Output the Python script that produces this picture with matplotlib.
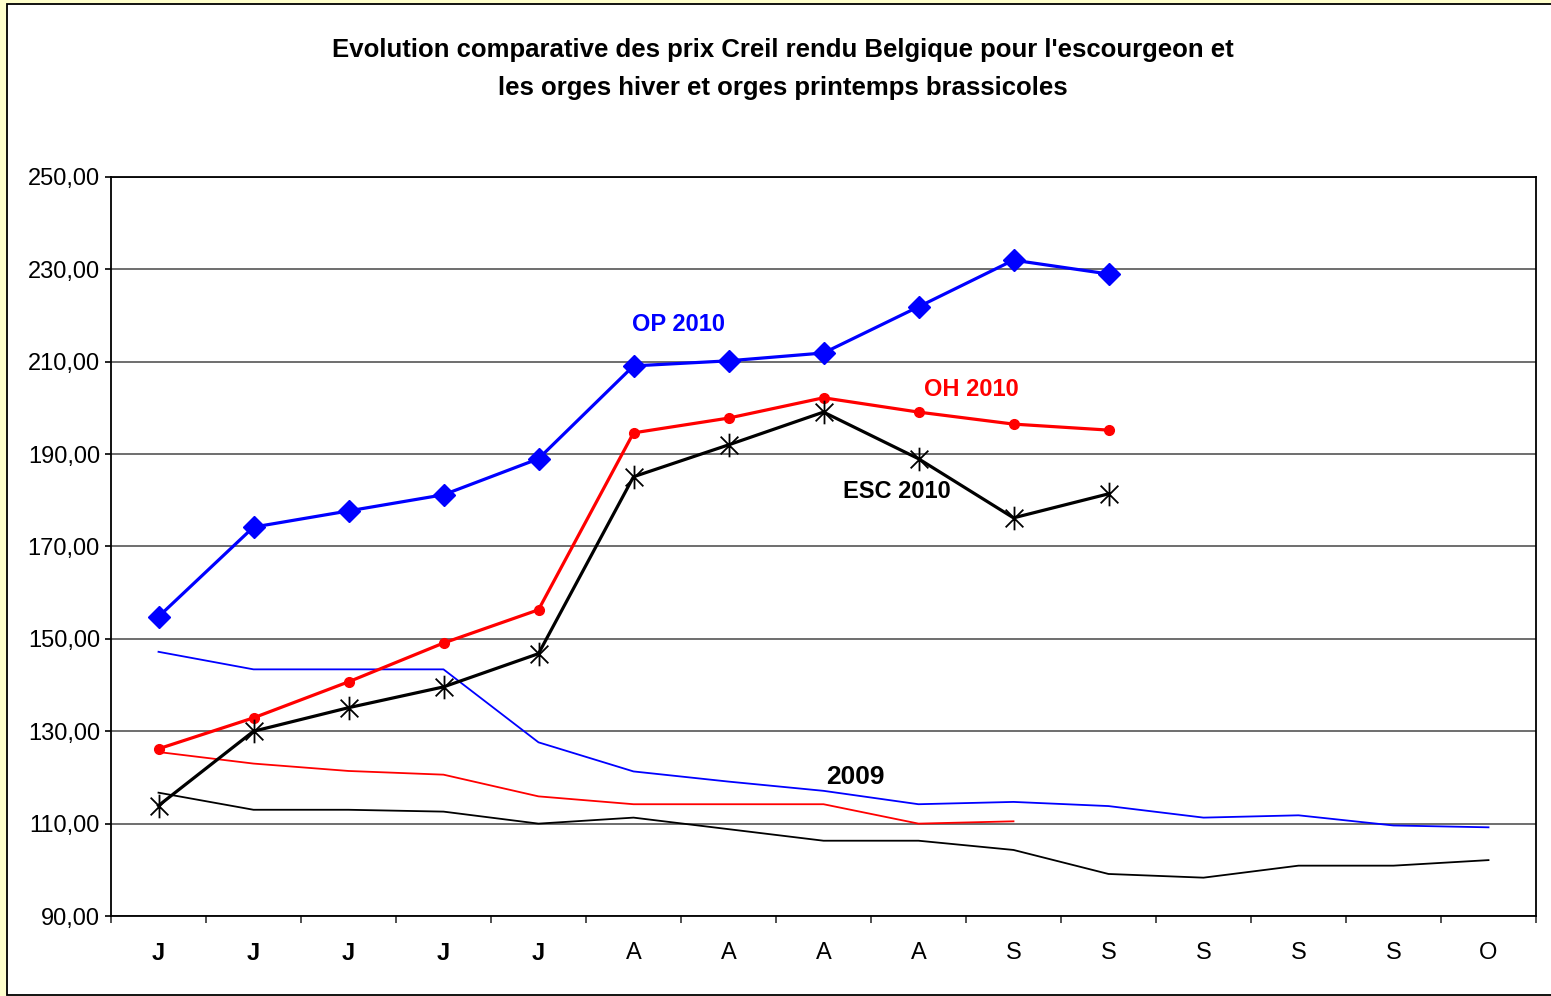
import matplotlib.pyplot as plt
import numpy as np
from matplotlib.patches import Rectangle
from matplotlib.path import Path

plt.rcParams['font.family'] = ['Liberation Sans', 'DejaVu Sans']

MONTHS = ['J', 'J', 'J', 'J', 'J', 'A', 'A', 'A', 'A', 'S', 'S', 'S', 'S', 'S', 'O']

# 2010 campaign (bold lines with markers)
op_2010 = [154.8, 174.2, 177.7, 181.2, 189.0, 209.1, 210.2, 211.9, 221.9, 232.0, 229.0]
oh_2010 = [126.2, 132.9, 140.7, 149.1, 156.3, 194.6, 197.8, 202.2, 199.1, 196.5, 195.2]
esc_2010 = [113.9, 130.0, 135.1, 139.6, 146.8, 185.1, 192.0, 199.1, 189.0, 176.2, 181.4]

# 2009 campaign (thin lines)
op_2009 = [147.2, 143.4, 143.4, 143.4, 127.6, 121.3, 119.1, 117.1, 114.2, 114.7,
           113.8, 111.3, 111.8, 109.6, 109.2]
oh_2009 = [125.5, 123.0, 121.4, 120.6, 115.9, 114.2, 114.2, 114.2, 110.0, 110.5]
esc_2009 = [116.7, 113.0, 113.0, 112.6, 110.0, 111.3, 108.8, 106.3, 106.3, 104.3,
            99.1, 98.3, 100.9, 100.9, 102.1]

YTICKS = [90, 110, 130, 150, 170, 190, 210, 230, 250]

# excel style asterisk: vertical bar + X
star = Path([(0, -1), (0, 1), (-0.75, -0.75), (0.75, 0.75), (-0.75, 0.75), (0.75, -0.75)],
            [Path.MOVETO, Path.LINETO, Path.MOVETO, Path.LINETO, Path.MOVETO, Path.LINETO])

fig = plt.figure(figsize=(15.51, 9.96), dpi=100)
fig.patch.set_facecolor('#FFFFCC')
fig.patches.append(Rectangle((6.5 / 1551, 1.5 / 996), 1.0, 990.5 / 996,
                             transform=fig.transFigure, facecolor='white',
                             edgecolor='black', linewidth=1.3, zorder=-5))

ax = fig.add_axes([111 / 1551, 80 / 996, 1425 / 1551, 739 / 996])
ax.set_zorder(2)
ax.set_facecolor('white')

x15 = np.arange(15)
ax.plot(x15[:len(op_2009)], op_2009, color='blue', lw=1.3, zorder=3)
ax.plot(x15[:len(oh_2009)], oh_2009, color='red', lw=1.3, zorder=3)
ax.plot(x15[:len(esc_2009)], esc_2009, color='black', lw=1.3, zorder=3)

ax.plot(x15[:len(op_2010)], op_2010, color='blue', lw=2.3, marker='D', ms=11,
        mec='blue', zorder=4)
ax.plot(x15[:len(oh_2010)], oh_2010, color='red', lw=2.3, marker='o', ms=7,
        mec='red', zorder=4)
ax.plot(x15[:len(esc_2010)], esc_2010, color='black', lw=2.3, marker=star, ms=17,
        mew=1.3, mec='black', zorder=4)

lbl = dict(fontsize=17, fontweight='bold', ha='center', va='center')
ax.text(5.47, 218.0, 'OP 2010', color='blue', **lbl)
ax.text(8.56, 204.1, 'OH 2010', color='red', **lbl)
ax.text(7.77, 182.0, 'ESC 2010', color='black', **lbl)
ax.text(7.34, 120.1, '2009', color='black', fontsize=19, fontweight='bold',
        ha='center', va='center')

ax.set_xlim(-0.5, 14.5)
ax.set_ylim(90, 250)
ax.set_yticks(YTICKS)
ax.set_yticklabels(['%d,00' % v for v in YTICKS], fontsize=17)
ax.grid(axis='y', color='#555555', lw=1.2)
ax.set_axisbelow(True)

ax.set_xticks(x15)
ax.set_xticklabels(MONTHS, fontsize=17)
for lab in ax.get_xticklabels():
    if lab.get_text() == 'J':
        lab.set_fontweight('bold')
ax.set_xticks(np.arange(-0.5, 15, 1), minor=True)
ax.tick_params(axis='x', which='major', length=0, pad=19)
ax.tick_params(axis='x', which='minor', length=5, width=1.2, color='#333333')
ax.tick_params(axis='y', length=4, width=1.2, pad=4)

for s in ax.spines.values():
    s.set_color('black')
    s.set_linewidth(1.3)

fig.text(0.505, 0.950, "Evolution comparative des prix Creil rendu Belgique pour l'escourgeon et",
         ha='center', va='center', fontsize=18.5, fontweight='bold')
fig.text(0.505, 0.912, 'les orges hiver et orges printemps brassicoles',
         ha='center', va='center', fontsize=18.5, fontweight='bold')

fig.savefig('out.png', dpi=100, facecolor=fig.get_facecolor())
